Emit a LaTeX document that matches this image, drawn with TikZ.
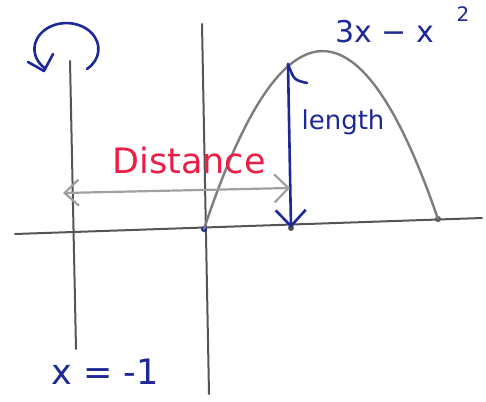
\documentclass[tikz,border=0pt]{standalone}
\usepackage{fontspec}
\setmainfont{DejaVu Sans}
\usetikzlibrary{arrows.meta}
\definecolor{pen}{RGB}{30,40,150}
\definecolor{redpen}{RGB}{235,30,70}
\definecolor{axisgray}{RGB}{85,85,85}
\definecolor{curvegray}{RGB}{125,125,125}
\definecolor{lightgray}{RGB}{160,160,160}
\tikzset{
  axisline/.style={draw=axisgray, line width=2pt, line cap=round},
  curveline/.style={draw=curvegray, line width=2.4pt, line cap=round},
  bluearrow/.style={draw=pen, line width=2.6pt, line cap=round, line join=round},
  grayarrow/.style={draw=lightgray, line width=2.2pt, {Straight Barb[length=14pt,width=26pt]}-{Straight Barb[length=14pt,width=28pt]}},
  bluetext/.style={text=pen, inner sep=0pt},
  dotmark/.style={circle, fill=axisgray, inner sep=0pt, minimum size=6pt}
}
\begin{document}
\begin{tikzpicture}[x=1pt,y=-1pt]
\useasboundingbox (0,0) rectangle (486,401);
% axes
\coordinate (xl) at (15,234);
\coordinate (xr) at (482,218);
\coordinate (yt) at (202,24);
\coordinate (yb) at (209,394);
\coordinate (lt) at (70,61);
\coordinate (lb) at (76,349);
\draw[axisline] (xl) -- (xr);
\draw[axisline] (yt) -- (yb);
\draw[axisline] (lt) -- (lb);
% parabola
\node[dotmark, fill=pen] (o) at (204,229) {};
\node[dotmark] (r) at (438,219) {};
\coordinate (c1) at (282,-5);
\coordinate (c2) at (360,-8);
\draw[curveline] (o.center) .. controls (c1) and (c2) .. (r.center);
% length arrow
\coordinate (top) at (288,64);
\coordinate (hook) at (307,83);
\node[dotmark] (bot) at (291,228) {};
\draw[bluearrow, -{Straight Barb[length=16pt,width=30pt]}] (top) -- (bot.center);
\draw[bluearrow] (top) .. controls (294,80) .. (hook);
\node[bluetext, font=\fontsize{26}{26}\selectfont] (len) at (343,122) {length};
% distance arrow
\coordinate (dl) at (63,193);
\coordinate (dr) at (290,188);
\draw[grayarrow] (dl) -- (dr);
\node[text=redpen, inner sep=0pt, font=\fontsize{35}{35}\selectfont] (dist) at (189,160) {Distance};
% function label
\node[bluetext, font=\fontsize{30}{30}\selectfont, anchor=base west] (f) at (335,43) {3x − x};
\node[bluetext, font=\fontsize{20}{20}\selectfont] (sq) at (463,14) {2};
% x = -1
\node[bluetext, font=\fontsize{35}{35}\selectfont] (xm) at (105,372) {x = -1};
% rotation arrow
\coordinate (rs) at (87,69);
\coordinate (rtip) at (44,71);
\coordinate (rb1) at (28,62);
\coordinate (rb2) at (53,54);
\draw[bluearrow] (rs) arc[start angle=50, end angle=-228, x radius=32, y radius=26];
\draw[bluearrow] (rb1) -- (rtip) -- (rb2);
\end{tikzpicture}
\end{document}
